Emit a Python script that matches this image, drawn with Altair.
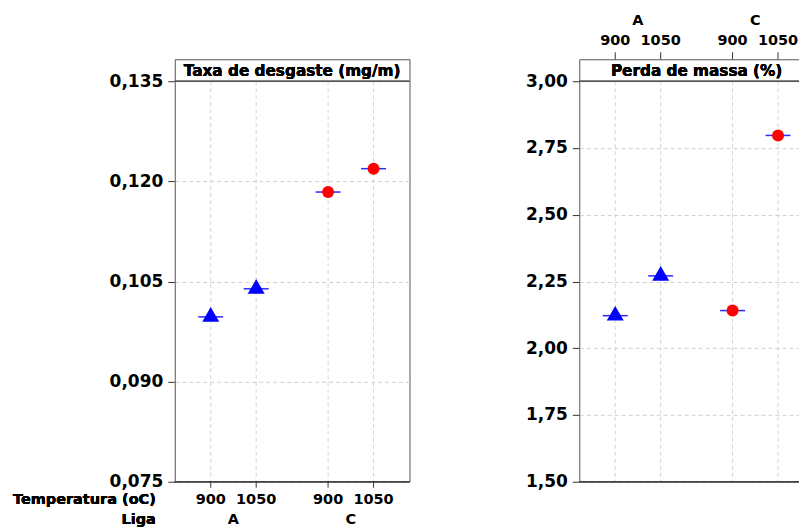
import altair as alt
import pandas as pd

# ---- data ----
liga = ["A", "A", "C", "C"]
temperatura = ["900", "1050", "900", "1050"]
taxa_desgaste = [0.0997, 0.1039, 0.1184, 0.1219]
perda_massa = [2.122, 2.271, 2.141, 2.797]

ligas = ["A", "C"]
temps = ["900", "1050"]
taxa_ticks = [0.075, 0.090, 0.105, 0.120, 0.135]
perda_ticks = [1.50, 1.75, 2.00, 2.25, 2.50, 2.75, 3.00]

df = pd.DataFrame({"Liga": liga, "Temperatura": temperatura,
                   "taxa": taxa_desgaste, "perda": perda_massa})
groups = pd.DataFrame({"Liga": ligas})

# ---- layout / style ----
W = 235
H = 423
STRIP = 22
FONT = "DejaVu Sans"
FRAME = "#555555"
TRI = "M0,-1.15L1,0.58L-1,0.58Z"

x_enc = alt.X("Liga:N", scale=alt.Scale(domain=ligas, paddingInner=0, paddingOuter=0), axis=None)
xo_enc = alt.XOffset("Temperatura:N",
                     scale=alt.Scale(domain=temps, paddingInner=0, paddingOuter=0.291))


def panel(field, title, domain, ticks, fmt, top):
    yscale = alt.Scale(domain=domain, range=[H, STRIP], nice=False, zero=False)
    yaxis = alt.Axis(values=ticks, title=None,
                     labelExpr=f"replace(format(datum.value, '{fmt}'), '.', ',')",
                     grid=True, gridColor="#cfcfcf", gridDash=[4, 3], domain=False,
                     tickSize=7, tickColor="#333333", labelPadding=5,
                     labelFont=FONT, labelFontSize=17, labelFontWeight="bold",
                     labelColor="black")
    base = alt.Chart(df)

    grid_v = base.mark_rule(color="#d4d4d4", strokeDash=[4, 3], strokeWidth=1).encode(
        x=x_enc, xOffset=xo_enc, y=alt.value(STRIP), y2=alt.value(H))

    sep = base.mark_rule(color=FRAME, strokeWidth=1).encode(
        x=alt.value(0), x2=alt.value(W), y=alt.value(STRIP))

    bottom = base.mark_rule(color="#444444", strokeWidth=1.2).encode(
        x=alt.value(0), x2=alt.value(W), y=alt.value(H))

    strip_text = base.mark_text(font=FONT, fontSize=15.3, fontWeight="bold",
                                color="black", align="center", baseline="middle").encode(
        x=alt.value(W / 2), y=alt.value(STRIP / 2 + 0.5), text=alt.value(title))

    mean_line = base.mark_point(shape="M-1,0L1,0", size=625, filled=False,
                                stroke="#2a2aff", strokeWidth=1.5, opacity=1).encode(
        x=x_enc, xOffset=xo_enc, y=alt.Y(f"{field}:Q", scale=yscale, axis=yaxis))

    symbols = base.mark_point(filled=True, opacity=1, strokeWidth=0).encode(
        x=x_enc, xOffset=xo_enc,
        y=alt.Y(f"{field}:Q", scale=yscale, axis=yaxis),
        color=alt.Color("Liga:N", scale=alt.Scale(domain=ligas, range=["#0000ff", "#ff0000"]),
                        legend=None),
        shape=alt.Shape("Liga:N", scale=alt.Scale(domain=ligas, range=[TRI, "circle"]),
                        legend=None),
        size=alt.Size("Liga:O", scale=alt.Scale(domain=ligas, range=[289, 144]), legend=None),
    )

    if top:
        tick_y, tick_y2, temp_y, liga_y = -7, 0, -18, -38
    else:
        tick_y, tick_y2, temp_y, liga_y = H, H + 6, H + 18, H + 38

    tick_marks = base.mark_rule(color="#333333", strokeWidth=1).encode(
        x=x_enc, xOffset=xo_enc, y=alt.value(tick_y), y2=alt.value(tick_y2))

    temp_labels = base.mark_text(font=FONT, fontSize=14.5, fontWeight="bold",
                                 color="black", baseline="middle").encode(
        x=x_enc, xOffset=xo_enc, y=alt.value(temp_y), text="Temperatura:N")

    liga_labels = alt.Chart(groups).mark_text(font=FONT, fontSize=14.5, fontWeight="bold",
                                              color="black", baseline="middle").encode(
        x=x_enc, y=alt.value(liga_y), text="Liga:N")

    layers = [grid_v, sep, bottom, strip_text, mean_line, symbols, tick_marks,
              temp_labels, liga_labels]

    if not top:
        t1 = base.mark_text(font=FONT, fontSize=14.5, fontWeight="bold", color="black",
                            align="right", baseline="middle").encode(
            x=alt.value(-19), y=alt.value(temp_y), text=alt.value("Temperatura (oC)"))
        t2 = base.mark_text(font=FONT, fontSize=14.5, fontWeight="bold", color="black",
                            align="right", baseline="middle").encode(
            x=alt.value(-19), y=alt.value(liga_y), text=alt.value("Liga"))
        layers += [t1, t2]

    return alt.layer(*layers).properties(width=W, height=H)


left = panel("taxa", "Taxa de desgaste (mg/m)", [0.075, 0.135], taxa_ticks, ".3f", top=False)
right = panel("perda", "Perda de massa (%)", [1.50, 3.00], perda_ticks, ".2f", top=True)

chart = alt.hconcat(left, right, spacing=170, bounds="flush").configure_view(
    stroke=FRAME, strokeWidth=1
).properties(
    padding={"left": 4, "top": 4, "right": -17, "bottom": 0}
)

chart.save("out.html", embed_options={"renderer": "svg", "actions": False})
